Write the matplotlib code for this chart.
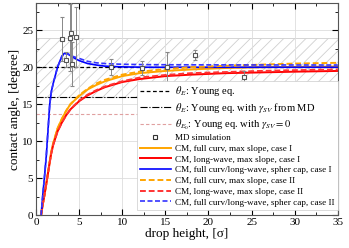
import numpy as np
import matplotlib
matplotlib.use("Agg")
import matplotlib.pyplot as plt
from matplotlib.lines import Line2D

plt.rcParams["font.family"] = ["Liberation Serif", "DejaVu Serif"]
plt.rcParams["mathtext.fontset"] = "stix"
plt.rcParams["hatch.linewidth"] = 0.6

# MD simulation points
md_h = [3.0, 3.45, 3.9, 4.1, 4.2, 4.65, 8.7, 12.3, 15.2, 18.4, 24.1]
md_theta = [23.8, 21.0, 24.0, 24.6, 20.4, 24.1, 20.0, 19.9, 20.0, 21.7, 18.7]
md_err = [3.0, 1.0, 4.5, 4.5, 3.0, 4.0, 1.1, 1.0, 2.0, 0.7, 0.8]

# CM curves, case I / case II
h_sc = [0.6, 0.8, 1.0, 1.2, 1.4, 1.6, 1.8, 2.0, 2.5, 3.0, 3.3, 3.7, 4.2, 5.0, 6.0, 7.0, 8.0, 10.0, 13.0, 20.0, 35.0]
sc_I = [0.0, 2.8, 5.3, 8.0, 11.5, 15.0, 16.8, 17.8, 20.0, 21.5, 21.9, 21.8, 21.4, 20.9, 20.5, 20.3, 20.15, 20.05, 20.0, 20.0, 20.0]
sc_II = [0.0, 2.8, 5.3, 8.0, 11.5, 15.0, 16.8, 17.8, 20.0, 21.4, 21.8, 21.8, 21.5, 21.2, 20.8, 20.6, 20.5, 20.4, 20.35, 20.32, 20.3]

h_ms = [0.6, 0.8, 1.0, 1.2, 1.5, 1.75, 2.0, 2.5, 3.0, 3.5, 4.0, 5.0, 6.0, 7.0, 8.0, 10.0, 12.0, 15.0, 18.0, 22.0, 26.0, 30.0, 35.0]
fc_I = [0.0, 1.5, 2.8, 4.3, 6.5, 8.4, 9.7, 11.7, 13.0, 14.1, 15.0, 16.1, 17.0, 17.6, 18.1, 18.8, 19.2, 19.5, 19.7, 19.9, 20.0, 20.05, 20.1]
lw_I = [0.0, 1.5, 2.8, 4.2, 6.4, 8.2, 9.5, 11.3, 12.5, 13.5, 14.3, 15.4, 16.2, 16.8, 17.3, 18.0, 18.4, 18.8, 19.0, 19.2, 19.3, 19.4, 19.5]
fc_II = [0.0, 1.5, 2.8, 4.3, 6.5, 8.4, 9.7, 11.7, 13.0, 14.1, 15.0, 16.2, 17.1, 17.8, 18.3, 19.0, 19.4, 19.75, 20.0, 20.2, 20.35, 20.5, 20.6]
lw_II = [0.0, 1.5, 2.8, 4.2, 6.4, 8.2, 9.5, 11.3, 12.5, 13.5, 14.3, 15.5, 16.3, 16.9, 17.4, 18.1, 18.6, 18.95, 19.2, 19.35, 19.5, 19.6, 19.7]

theta_E = 20.0
theta_E_md = 16.0
theta_E0 = 13.7
band = (16.0, 24.0)

fig = plt.figure(figsize=(3.49, 2.48), dpi=100)
ax = fig.add_axes([0.103, 0.133, 0.865, 0.855])

ax.axhspan(band[0], band[1], facecolor="none", hatch="///", edgecolor="#cfcfcf", lw=0.6, zorder=0.5)

l1, = ax.plot([0, 35], [theta_E, theta_E], "k--", lw=0.9, dashes=(3, 2))
l2, = ax.plot([0, 35], [theta_E_md, theta_E_md], "k-.", lw=0.8)
l3, = ax.plot([0, 35], [theta_E0, theta_E0], "--", color="#e0a0a0", lw=0.8, dashes=(3, 2))

ax.errorbar(md_h, md_theta, yerr=md_err, fmt="s", ms=3.5, mfc="white", mec="#555555",
            mew=0.8, ecolor="#888888", elinewidth=0.7, capsize=1.5, zorder=5)

c1, = ax.plot(h_ms, fc_I, color="#ffa500", lw=1.4)
c2, = ax.plot(h_ms, lw_I, color="#ff0000", lw=1.4)
c3, = ax.plot(h_sc, sc_I, color="#0000ff", lw=1.2)
c4, = ax.plot(h_ms, fc_II, "--", color="#ffa500", lw=1.4, dashes=(3, 1.5))
c5, = ax.plot(h_ms, lw_II, "--", color="#ff3333", lw=1.4, dashes=(3, 1.5))
c6, = ax.plot(h_sc, sc_II, "--", color="#3333ff", lw=1.2, dashes=(3, 1.5))

md_handle = Line2D([], [], marker="s", ls="none", ms=3, mfc="white", mec="#333333", mew=0.8)

handles = [l1, l2, l3, md_handle, c1, c2, c3, c4, c5, c6]
labels = [r"$\theta_E$: Young eq.",
          r"$\theta_E$: Young eq. with $\gamma_{SV}$ from MD",
          r"$\theta_{E_0}$: Young eq. with $\gamma_{SV}=0$",
          "MD simulation",
          "CM, full curv, max slope, case I",
          "CM, long-wave, max slope, case I",
          "CM, full curv/long-wave, spher cap, case I",
          "CM, full curv, max slope, case II",
          "CM, long-wave, max slope, case II",
          "CM, full curv/long-wave, spher cap, case II"]
leg = ax.legend(handles, labels, loc="lower right", bbox_to_anchor=(1.0, 0.025), fontsize=6.6,
                frameon=True, fancybox=False, edgecolor="#cccccc", framealpha=1,
                handlelength=3.4, handletextpad=0.45, labelspacing=0.25, borderpad=0.35,
                borderaxespad=0.0)
for t in leg.get_texts()[:3]:
    t.set_fontsize(7.6)
leg.get_frame().set_linewidth(0.5)
leg.set_zorder(6)

ax.set_xlim(0, 35)
ax.set_ylim(0, 28.7)
ax.set_xticks(np.arange(0, 36, 5))
ax.set_yticks(np.arange(0, 26, 5))
ax.set_xticks(np.arange(0, 35, 2.5), minor=True)
ax.set_yticks(np.arange(0, 28.7, 2.5), minor=True)
ax.grid(True, which="major", color="#dddddd", lw=0.6)
ax.set_axisbelow(True)
ax.tick_params(which="both", direction="in", top=True, right=True, labelsize=8, pad=2)
ax.tick_params(which="major", length=4)
ax.tick_params(which="minor", length=2)
for s in ax.spines.values():
    s.set_color("#555555")
ax.set_xlabel("drop height, [σ]", fontsize=9.5, labelpad=1)
ax.set_ylabel("contact angle, [degree]", fontsize=9.5, labelpad=1)

fig.savefig("out.png", dpi=100)
